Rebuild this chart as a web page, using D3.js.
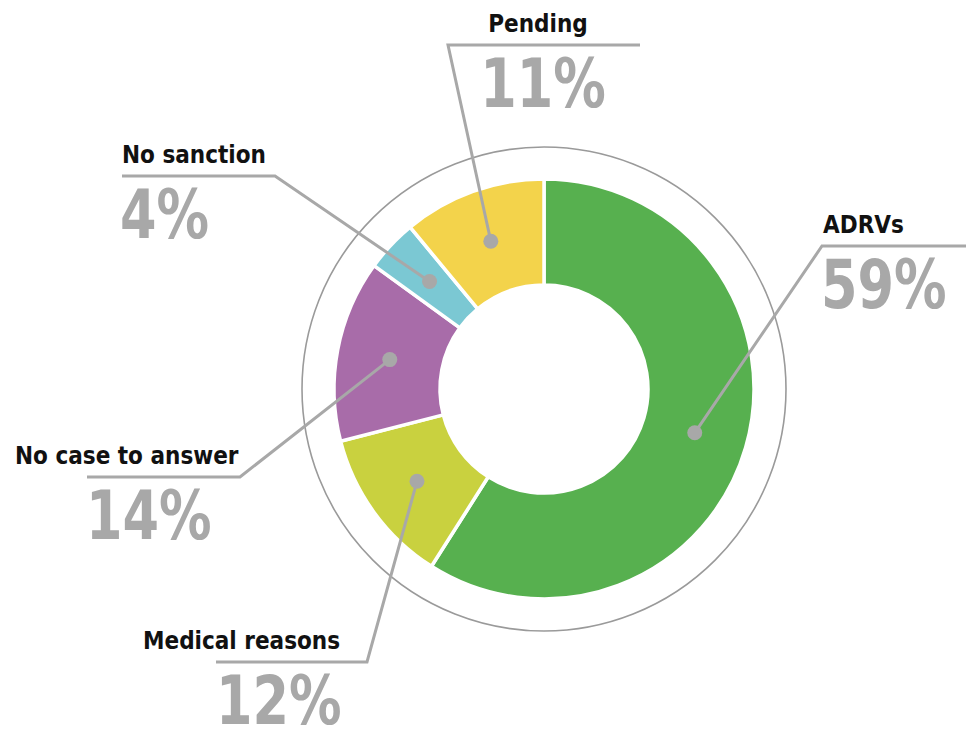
<!DOCTYPE html>
<html>
<head>
	<meta charset="utf-8">
	<title>donut</title>
	<script type="text/javascript" src="https://cdn.jsdelivr.net/npm/d3@7/dist/d3.min.js"></script>
	<style type="text/css">
		body{margin:0;background:#fff;}
		.name{font-family:"DejaVu Sans Condensed","DejaVu Sans",sans-serif;font-stretch:condensed;font-weight:bold;fill:#111;}
		.pct{font-family:"DejaVu Sans Condensed","DejaVu Sans",sans-serif;font-stretch:condensed;font-weight:bold;fill:#a8a8a8;}
	</style>
</head>
<body>
	<script type="text/javascript">
		// data, clockwise from 12 o'clock
		var categories=["ADRVs","Medical reasons","No case to answer","No sanction","Pending"];
		var values=[59,12,14,4,11];
		var colors=["#57b04f","#c9d13f","#a86ca9","#7bc8d3","#f3d34b"];

		var width=966,
			height=732,
			cx=544,
			cy=389,
			rOuter=210,
			rInner=104,
			rRing=242;

		// label layout: horizontal rule (x1..x2 at y), which end joins the leader, text positions
		var layout=[
			{y:246, x1:822, x2:966, join:"left",  nx:823, na:"start",  px:821, pa:"start"},
			{y:662, x1:216, x2:367, join:"right", nx:143, na:"start",  px:216, pa:"start"},
			{y:477, x1:87,  x2:240, join:"right", nx:15,  na:"start",  px:86,  pa:"start"},
			{y:176, x1:122, x2:275, join:"right", nx:122, na:"start",  px:120, pa:"start"},
			{y:45,  x1:448, x2:640, join:"left",  nx:538, na:"middle", px:543, pa:"middle"}
		];
		var squeeze=0.87;	// big numbers are narrower than DejaVu

		var svg=d3.select("body")
				.append("svg")
				.attr("width", width)
				.attr("height", height);

		var g=svg.append("g")
			.attr("transform", "translate("+cx+","+cy+")");

		g.append("circle")
			.attr("r", rRing)
			.attr("fill", "none")
			.attr("stroke", "#9a9a9a")
			.attr("stroke-width", 1.6);

		var pie=d3.pie().sort(null).value(function (d) { return d; });
		var arcs=pie(values);
		var arc=d3.arc().innerRadius(rInner).outerRadius(rOuter);

		g.selectAll("path.slice")
			.data(arcs)
			.enter()
			.append("path")
			.attr("class", "slice")
			.attr("d", arc)
			.attr("fill", function (d, i) { return colors[i]; })
			.attr("stroke", "#fff")
			.attr("stroke-width", 3.5);

		// leader lines + labels
		var lines=svg.selectAll("g.lbl")
			.data(arcs)
			.enter()
			.append("g")
			.attr("class", "lbl");

		lines.append("polyline")
			.attr("points", function (d, i) {
				var c=arc.centroid(d),
					L=layout[i],
					jx=L.join=="left" ? L.x1 : L.x2,
					ox=L.join=="left" ? L.x2 : L.x1;
				return [[cx+c[0], cy+c[1]], [jx, L.y], [ox, L.y]].map(function (p) { return p.join(","); }).join(" ");
			})
			.attr("fill", "none")
			.attr("stroke", "#a8a8a8")
			.attr("stroke-width", 3);

		lines.append("circle")
			.attr("cx", function (d) { return cx+arc.centroid(d)[0]; })
			.attr("cy", function (d) { return cy+arc.centroid(d)[1]; })
			.attr("r", 7.5)
			.attr("fill", "#a8a8a8");

		lines.append("text")
			.attr("class", "name")
			.attr("x", function (d, i) { return layout[i].nx; })
			.attr("y", function (d, i) { return layout[i].y-13; })
			.attr("text-anchor", function (d, i) { return layout[i].na; })
			.attr("font-size", 24)
			.text(function (d, i) { return categories[i]; });

		lines.append("text")
			.attr("class", "pct")
			.attr("transform", function (d, i) {
				return "translate("+layout[i].px+","+(layout[i].y+62)+") scale("+squeeze+",1)";
			})
			.attr("text-anchor", function (d, i) { return layout[i].pa; })
			.attr("font-size", 67)
			.text(function (d, i) { return values[i]+"%"; });
	</script>
</body>
</html>
